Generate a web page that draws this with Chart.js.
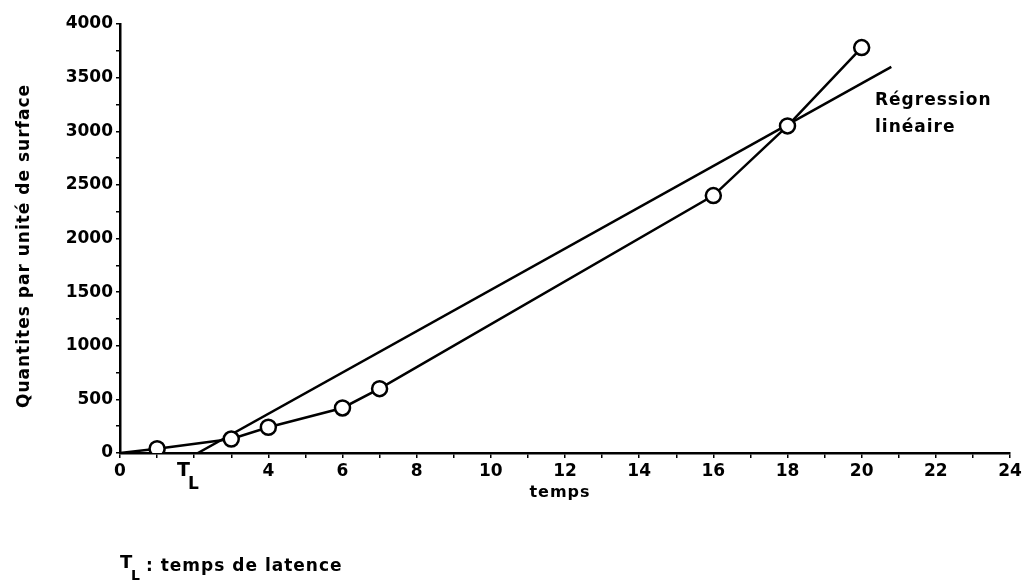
<!DOCTYPE html>
<html>
<head>
<meta charset="utf-8">
<script src="https://cdn.jsdelivr.net/npm/chart.js@4.4.1/dist/chart.umd.min.js"></script>
<style>
html,body{margin:0;padding:0;background:#fff;}
canvas{display:block;}
</style>
</head>
<body>
<canvas id="c" width="1025" height="581"></canvas>
<script>
// Data
const temps = [0, 1, 3, 4, 6, 7, 16, 18, 20];
const quantites = [0, 40, 130, 240, 420, 600, 2400, 3050, 3780];
const regX = [2.1, 20.8];
const regY = [0, 3600];
const xTickLabels = [0, 4, 6, 8, 10, 12, 14, 16, 18, 20, 22, 24];
const yTickLabels = [0, 500, 1000, 1500, 2000, 2500, 3000, 3500, 4000];

const FONT = '"DejaVu Sans", sans-serif';

const obsData = temps.map((t, i) => ({x: t, y: quantites[i]}));
const regData = regX.map((t, i) => ({x: t, y: regY[i]}));

const textPlugin = {
  id: 'texts',
  afterDraw(chart) {
    const ctx = chart.ctx;
    ctx.save();
    ctx.fillStyle = '#000';
    ctx.textBaseline = 'middle';
    if ('letterSpacing' in ctx) ctx.letterSpacing = '1px';
    // y-axis title
    ctx.save();
    ctx.translate(25, 246);
    ctx.rotate(-Math.PI / 2);
    ctx.textAlign = 'center';
    ctx.font = 'bold 17px ' + FONT;
    ctx.fillText('Quantites par unité de surface', 0, 0);
    ctx.restore();
    // x-axis title
    ctx.textAlign = 'center';
    ctx.font = 'bold 16px ' + FONT;
    ctx.fillText('temps', 560, 493);
    // regression label
    ctx.textAlign = 'left';
    ctx.font = 'bold 17px ' + FONT;
    ctx.fillText('Régression', 875, 101);
    ctx.fillText('linéaire', 875, 128);
    // T_L on axis
    ctx.font = 'bold 19px ' + FONT;
    ctx.fillText('T', 177, 471);
    ctx.font = 'bold 17px ' + FONT;
    ctx.fillText('L', 188, 485);
    // footnote
    ctx.font = 'bold 18px ' + FONT;
    ctx.fillText('T', 120, 563);
    ctx.font = 'bold 14px ' + FONT;
    ctx.fillText('L', 131, 576);
    ctx.font = 'bold 17px ' + FONT;
    ctx.fillText(': temps de latence', 146, 567);
    ctx.restore();
  }
};

new Chart(document.getElementById('c'), {
  type: 'scatter',
  data: {
    datasets: [
      {
        label: 'obs',
        data: obsData,
        showLine: true,
        borderColor: '#000',
        borderWidth: 2.5,
        backgroundColor: '#fff',
        pointRadius: temps.map((t, i) => i === 0 ? 0 : 7.5),
        pointBorderWidth: 2.5,
        pointBorderColor: '#000',
        pointBackgroundColor: '#fff',
        order: 0
      },
      {
        label: 'reg',
        data: regData,
        showLine: true,
        borderColor: '#000',
        borderWidth: 2.5,
        pointRadius: 0,
        order: 1
      }
    ]
  },
  options: {
    responsive: false,
    animation: false,
    events: [],
    layout: {padding: {left: 0, right: 15, top: 24, bottom: 88}},
    plugins: {legend: {display: false}, tooltip: {enabled: false}},
    scales: {
      x: {
        type: 'linear',
        min: 0, max: 24,
        afterFit(s) { s.height = 40; },
        afterBuildTicks(s) {
          const t = [];
          for (let v = 0; v <= 24; v++) t.push({value: v});
          s.ticks = t;
        },
        border: {color: '#000', width: 2.5},
        grid: {drawOnChartArea: false, color: '#000', lineWidth: 1.5, tickLength: 5},
        ticks: {
          autoSkip: false,
          maxRotation: 0,
          color: '#000',
          padding: 3,
          font: {family: FONT, size: 17, weight: 'bold'},
          callback: (v) => xTickLabels.includes(v) ? String(v) : ''
        }
      },
      y: {
        type: 'linear',
        min: 0, max: 4000,
        afterFit(s) { s.width = 120; },
        afterBuildTicks(s) {
          const t = [];
          for (let v = 0; v <= 4000; v += 250) t.push({value: v});
          s.ticks = t;
        },
        border: {color: '#000', width: 2.5},
        grid: {drawOnChartArea: false, color: '#000', lineWidth: 1.5, tickLength: 4},
        ticks: {
          autoSkip: false,
          color: '#000',
          padding: 3,
          font: {family: FONT, size: 17, weight: 'bold'},
          callback: (v) => yTickLabels.includes(v) ? String(v) : ''
        }
      }
    }
  },
  plugins: [textPlugin]
});
</script>
</body>
</html>
